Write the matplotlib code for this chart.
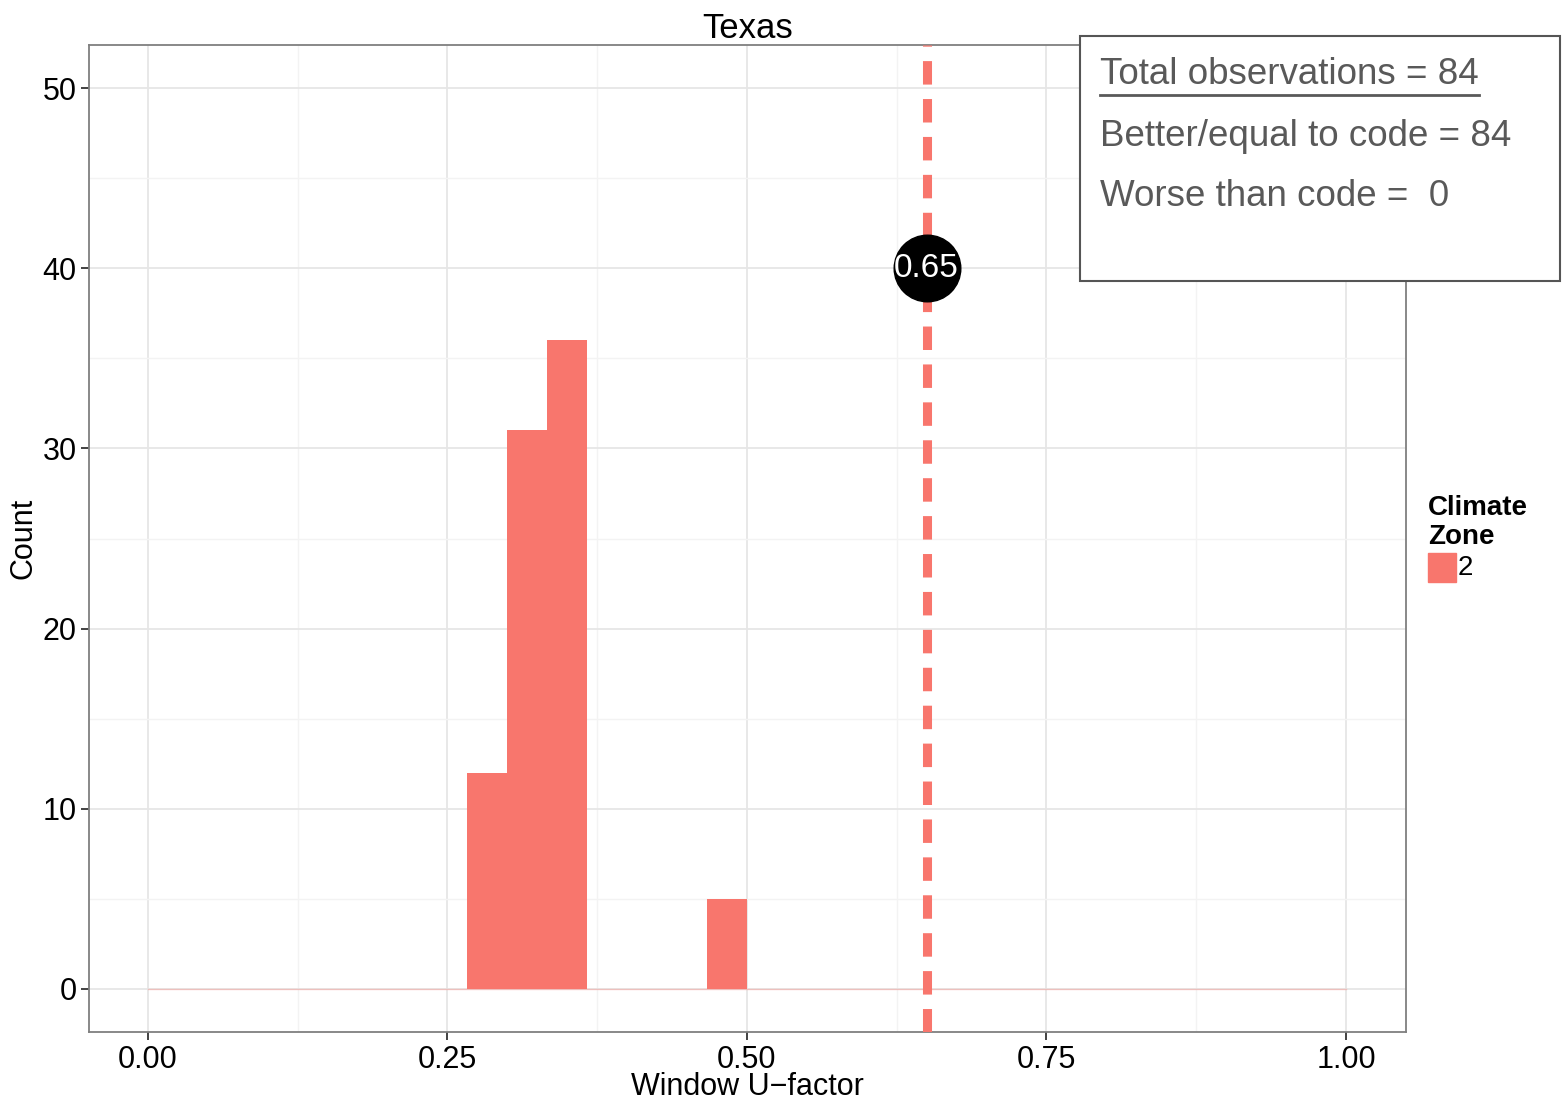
import matplotlib
matplotlib.use('Agg')
import matplotlib.pyplot as plt
import numpy as np
from matplotlib.patches import Rectangle
from matplotlib.lines import Line2D

# histogram data (30 bins over 0..1)
bin_edges = np.arange(30) / 30
counts = [0, 0, 0, 0, 0, 0, 0, 0, 12, 31, 36, 0, 0, 0, 5, 0,
          0, 0, 0, 0, 0, 0, 0, 0, 0, 0, 0, 0, 0, 0]
code_value = 0.65
code_label_y = 40
box_lines = ['Total observations = 84', 'Better/equal to code = 84', 'Worse than code =  0']
x_ticks = [0.0, 0.25, 0.5, 0.75, 1.0]
x_ticklabels = ['0.00', '0.25', '0.50', '0.75', '1.00']
y_ticks = [0, 10, 20, 30, 40, 50]

fill = '#F8766D'
plt.rcParams['font.family'] = ['Liberation Sans', 'DejaVu Sans']

fig = plt.figure(figsize=(15.62, 11), dpi=100)
ax = fig.add_axes([89/1562, 1-1032/1100, (1406-89)/1562, (1032-45)/1100])

ax.bar(bin_edges, counts, width=1/30, align='edge', color=fill, linewidth=0, zorder=3)
ax.plot([0, 1], [0, 0], color=fill, alpha=0.35, lw=1, zorder=3)

ax.axvline(code_value, color=fill, lw=6.5, linestyle=(0, (2.6, 1.6)), zorder=4)
ax.scatter([code_value], [code_label_y], s=2300, color='black', zorder=5)
ax.text(code_value, code_label_y, '0.65', color='white', fontsize=24,
        ha='center', va='center', zorder=6)

ax.set_xlim(-0.049, 1.05)
ax.set_ylim(-2.4, 52.4)
ax.set_xticks(x_ticks)
ax.set_xticklabels(x_ticklabels)
ax.set_yticks(y_ticks)
ax.set_xticks([0.125, 0.375, 0.625, 0.875], minor=True)
ax.set_yticks([5, 15, 25, 35, 45], minor=True)
ax.grid(True, which='major', color='#E6E6E6', lw=1.3, zorder=0)
ax.grid(True, which='minor', color='#F3F3F3', lw=1.0, zorder=0)
ax.set_axisbelow(True)
ax.tick_params(axis='both', which='major', labelsize=22, length=6, width=1.3,
               color='#333333', labelcolor='black', pad=3)
ax.tick_params(axis='both', which='minor', length=0)
for s in ax.spines.values():
    s.set_color('#7F7F7F')
    s.set_linewidth(1.3)

ax.set_xlabel('Window U\u2212factor', fontsize=22, labelpad=0)
ax.xaxis.set_label_coords(0.5, -0.041)
ax.set_ylabel('Count', fontsize=22)
ax.yaxis.set_label_coords(-0.038, 0.50)
ax.set_title('Texas', fontsize=25, pad=1)

# legend
fig.text(1428/1562, 1-495/1100, 'Climate\nZone', fontsize=20, fontweight='bold',
         ha='left', va='top', linespacing=1.15)
fig.patches.append(Rectangle((1428/1562, 1-582/1100), 28/1562, 29/1100,
                             transform=fig.transFigure, color=fill))
fig.text(1458/1562, 1-568/1100, '2', fontsize=20, ha='left', va='center')

# summary box
fig.patches.append(Rectangle((1080/1562, 1-281/1100), 480/1562, 245/1100,
                             transform=fig.transFigure, facecolor='white',
                             edgecolor='#555555', lw=1.5, zorder=10))
box_font = ['Liberation Sans Narrow', 'DejaVu Sans Condensed', 'Liberation Sans']
ys = [75, 136, 197]
texts = []
for line, y in zip(box_lines, ys):
    t = fig.text(1100/1562, 1-y/1100, line, fontsize=30, color='#595959',
                 family=box_font, ha='left', va='center', zorder=11)
    texts.append(t)
# fit the font size so the second line is about as wide as in the original
renderer = fig.canvas.get_renderer()
w = texts[1].get_window_extent(renderer).width
size = 30 * 411 / w
for t in texts:
    t.set_fontsize(size)
w1 = texts[0].get_window_extent(renderer).width
fig.lines.append(Line2D([1100/1562, (1100 + w1)/1562], [1-95/1100, 1-95/1100],
                        transform=fig.transFigure, color='#595959', lw=2, zorder=11))

plt.savefig('out.png', dpi=100)
